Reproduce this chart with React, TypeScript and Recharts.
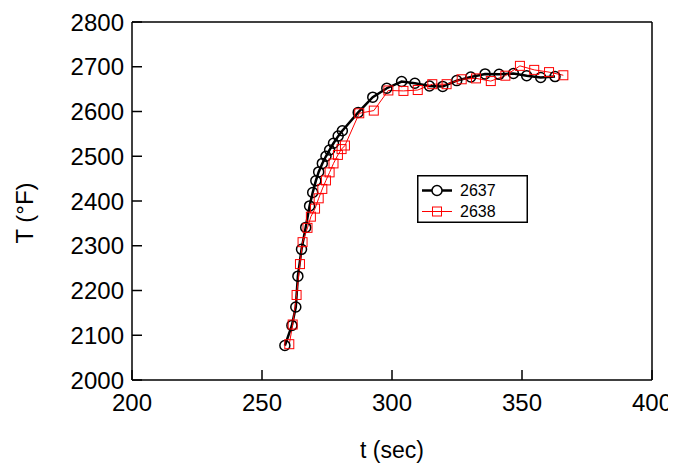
import React from 'react';
import { LineChart, Line, XAxis, YAxis, Legend, Label } from 'recharts';

const t2637 = [258.8, 261.5, 263.0, 263.8, 265.2, 266.8, 268.3, 269.5, 270.7, 271.8, 273.2, 274.6, 276.0, 277.5, 279.3, 280.9, 287.0, 292.6, 298.0, 303.7, 308.8, 314.4, 319.5, 324.9, 330.3, 335.8, 341.2, 346.7, 351.8, 357.2, 362.7];
const T2637 = [2077, 2122, 2163, 2232, 2292, 2341, 2389, 2419, 2445, 2465, 2484, 2500, 2514, 2529, 2545, 2557, 2598, 2632, 2652, 2667, 2663, 2657, 2656, 2669, 2677, 2684, 2683, 2685, 2680, 2676, 2678];

const t2638 = [260.5, 261.8, 263.3, 264.6, 265.6, 267.5, 268.8, 270.4, 271.8, 273.2, 274.6, 276.0, 277.5, 279.2, 280.6, 281.9, 287.4, 293.0, 298.6, 304.4, 309.9, 315.5, 321.0, 326.8, 332.3, 338.0, 343.6, 349.2, 354.7, 360.4, 365.9];
const T2638 = [2080, 2124, 2190, 2259, 2308, 2340, 2365, 2383, 2406, 2427, 2446, 2464, 2484, 2503, 2516, 2524, 2596, 2602, 2647, 2646, 2648, 2661, 2661, 2672, 2674, 2668, 2680, 2702, 2693, 2688, 2681];

const xTicks = [200, 250, 300, 350, 400];
const yTicks = [2000, 2100, 2200, 2300, 2400, 2500, 2600, 2700, 2800];

const data2637 = t2637.map((t, i) => ({ t, T: T2637[i] }));
const data2638 = t2638.map((t, i) => ({ t, T: T2638[i] }));

const FONT = '"Liberation Sans", Arial, Helvetica, sans-serif';
const axisStyle = { stroke: '#000', strokeWidth: 1.5 };

const SquareDot = (props: any) => {
  const { cx, cy, index } = props;
  if (cx == null || cy == null) return <g key={`sq-${index}`} />;
  return (
    <rect key={`sq-${index}`} x={cx - 4.5} y={cy - 4.5} width={9} height={9} fill="none" stroke="#ff0000" strokeWidth={1} />
  );
};

const renderLegend = (props: any) => {
  const payload = props.payload || [];
  return (
    <svg width={111} height={48} style={{ display: 'block' }}>
      <rect x={0.75} y={0.75} width={109.5} height={46.5} fill="#fff" stroke="#000" strokeWidth={1.5} />
      {payload.map((p: any, i: number) => {
        const y = 15.5 + i * 21;
        const black = p.value === '2637';
        return (
          <g key={p.value}>
            <line x1={5} x2={35} y1={y} y2={y} stroke={black ? '#000' : '#ff0000'} strokeWidth={black ? 2.5 : 1} />
            {black ? (
              <circle cx={20} cy={y} r={5} fill="#fff" stroke="#000" strokeWidth={1.5} />
            ) : (
              <rect x={15.5} y={y - 4.5} width={9} height={9} fill="none" stroke="#ff0000" strokeWidth={1} />
            )}
            <text x={43} y={y} dy="0.36em" fontSize={16} fontFamily={FONT} fill="#000">{p.value}</text>
          </g>
        );
      })}
    </svg>
  );
};

export default function App() {
  return (
    <LineChart width={668} height={458} margin={{ top: 13, right: 23, left: 0, bottom: 0 }}>
      <XAxis
        xAxisId="bottom"
        dataKey="t"
        type="number"
        domain={[200, 400]}
        ticks={xTicks}
        allowDataOverflow
        height={86}
        tickSize={-10}
        tickMargin={24}
        axisLine={axisStyle}
        tickLine={axisStyle}
        tick={{ fontSize: 24, fontFamily: FONT, fill: '#000' }}
      >
        <Label
          content={() => (
            <text x={384} y={450} textAnchor="middle" fontSize={23} fontFamily={FONT} fill="#000">t (sec)</text>
          )}
        />
      </XAxis>
      <XAxis
        xAxisId="top"
        orientation="top"
        type="number"
        domain={[200, 400]}
        ticks={xTicks}
        allowDataOverflow
        height={1}
        tickSize={-10}
        axisLine={axisStyle}
        tickLine={axisStyle}
        tick={false}
      />
      <YAxis
        yAxisId="left"
        type="number"
        domain={[2000, 2800]}
        ticks={yTicks}
        allowDataOverflow
        width={124}
        tickSize={-10}
        tickMargin={18}
        axisLine={axisStyle}
        tickLine={axisStyle}
        tick={{ fontSize: 24, fontFamily: FONT, fill: '#000' }}
      >
        <Label
          content={() => (
            <text x={16} y={205} transform="rotate(-90 16 205)" textAnchor="middle" dominantBaseline="central" fontSize={24} fontFamily={FONT} fill="#000">T (°F)</text>
          )}
        />
      </YAxis>
      <YAxis
        yAxisId="right"
        orientation="right"
        type="number"
        domain={[2000, 2800]}
        ticks={yTicks}
        allowDataOverflow
        width={1}
        tickSize={-10}
        axisLine={axisStyle}
        tickLine={axisStyle}
        tick={false}
      />
      <Legend
        layout="horizontal"
        verticalAlign="middle"
        align="center"
        content={renderLegend}
        wrapperStyle={{ position: 'absolute', left: 409, top: 167, width: 111, height: 48 }}
      />
      <Line
        xAxisId="bottom"
        yAxisId="left"
        data={data2637}
        dataKey="T"
        name="2637"
        type="linear"
        stroke="#000"
        strokeWidth={2.5}
        dot={{ r: 5, fill: 'none', stroke: '#000', strokeWidth: 1.5 }}
        isAnimationActive={false}
      />
      <Line
        xAxisId="bottom"
        yAxisId="left"
        data={data2638}
        dataKey="T"
        name="2638"
        type="linear"
        stroke="#ff0000"
        strokeWidth={1}
        dot={SquareDot}
        isAnimationActive={false}
      />
    </LineChart>
  );
}
